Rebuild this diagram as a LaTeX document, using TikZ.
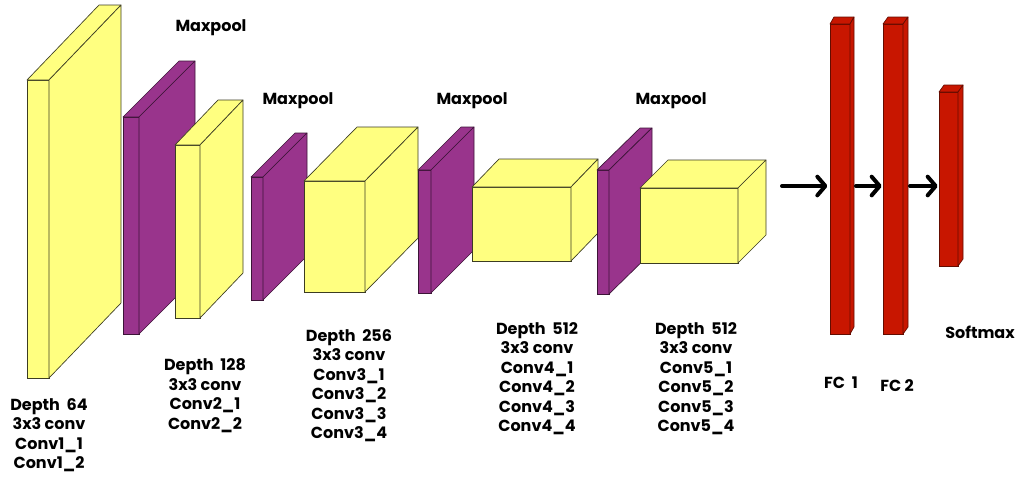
\documentclass[tikz,border=0pt]{standalone}
\usepackage{fontspec}
\setmainfont{Poppins}
\usetikzlibrary{arrows.meta}

\definecolor{convyellow}{RGB}{255,255,128}
\definecolor{convedge}{RGB}{60,60,35}
\definecolor{poolpurple}{RGB}{153,52,140}
\definecolor{pooledge}{RGB}{60,20,55}
\definecolor{fcred}{RGB}{200,22,0}
\definecolor{fcedge}{RGB}{100,12,0}

\tikzset{
  blockface/.style={inner sep=0pt, outer sep=0pt, anchor=north west, line width=0.5pt},
  sideface/.style={line width=0.5pt, line join=round},
  lbl/.style={font=\bfseries\fontsize{12}{14.6}\selectfont, align=center, inner sep=0pt},
  arr/.style={line width=3pt, line cap=round, -{Straight Barb[length=6pt,width=14pt,round]}}
}

% cuboid: name, x, y (front top-left), width, height, depth dx, depth dy, fill, edge
\newcommand\cuboid[9]{%
  \node[blockface, fill=#8, draw=#9, minimum width=#4*0.75pt, minimum height=#5*0.75pt] (#1) at (#2,#3) {};
  \filldraw[sideface, fill=#8, draw=#9] (#1.north west) -- ++(#6,#7) -- ++(#4,0) -- (#1.north east) -- cycle;
  \filldraw[sideface, fill=#8, draw=#9] (#1.north east) -- ++(#6,#7) -- ++(0,#5) -- (#1.south east) -- cycle;
}

\begin{document}
\begin{tikzpicture}[x=0.75pt, y=-0.75pt]
  \useasboundingbox (0,0) rectangle (1019,476);

  % convolution and pooling stages
  \cuboid{conv1}{27}{80}{22}{298}{72}{-75}{convyellow}{convedge}
  \cuboid{pool1}{123}{117}{16}{217}{56}{-56}{poolpurple}{pooledge}
  \cuboid{conv2}{175}{145}{25}{173}{43}{-45}{convyellow}{convedge}
  \cuboid{pool2}{251}{177}{12}{123}{44}{-44}{poolpurple}{pooledge}
  \cuboid{conv3}{304}{181}{61}{111}{53}{-54}{convyellow}{convedge}
  \cuboid{pool3}{418}{170}{13}{123}{43}{-43}{poolpurple}{pooledge}
  \cuboid{conv4}{472}{187}{99}{74}{27}{-28}{convyellow}{convedge}
  \cuboid{pool4}{597}{170}{12}{124}{43}{-42}{poolpurple}{pooledge}
  \cuboid{conv5}{640}{188}{98}{75}{28}{-28}{convyellow}{convedge}

  % fully connected layers
  \cuboid{fc1}{830}{24}{20}{310}{4}{-7}{fcred}{fcedge}
  \cuboid{fc2}{883}{24}{20}{310}{5}{-7}{fcred}{fcedge}
  \cuboid{sm}{939}{92}{19}{174}{5}{-7}{fcred}{fcedge}

  % arrows into the dense layers
  \coordinate (a0) at (782,186);
  \coordinate (a1) at (856,186);
  \coordinate (a2) at (910,186);
  \draw[arr] (a0) -- ([xshift=-2pt]a0 -| fc1.west);
  \draw[arr] (a1) -- ([xshift=-1pt]a1 -| fc2.west);
  \draw[arr] (a2) -- ([xshift=-1pt]a2 -| sm.west);

  % pooling labels
  \node[lbl] (mp1) at (211,28) {Maxpool};
  \node[lbl] (mp2) at (298,101) {Maxpool};
  \node[lbl] (mp3) at (472,101) {Maxpool};
  \node[lbl] (mp4) at (671,101) {Maxpool};

  % stage descriptions
  \node[lbl] (d1) at (49,435) {Depth\ \ 64\\3x3 conv\\Conv1\_1\\Conv1\_2};
  \node[lbl] (d2) at (205,395.5) {Depth\ \ 128\\3x3 conv\\Conv2\_1\\Conv2\_2};
  \node[lbl] (d3) at (349,385.5) {Depth\ \ 256\\3x3 conv\\Conv3\_1\\Conv3\_2\\Conv3\_3\\Conv3\_4};
  \node[lbl] (d4) at (537,378.5) {Depth\ \ 512\\3x3 conv\\Conv4\_1\\Conv4\_2\\Conv4\_3\\Conv4\_4};
  \node[lbl] (d5) at (696,378.5) {Depth\ \ 512\\3x3 conv\\Conv5\_1\\Conv5\_2\\Conv5\_3\\Conv5\_4};

  % dense layer labels
  \node[lbl] (lfc1) at (841,383) {FC\ \ 1};
  \node[lbl] (lfc2) at (897,386) {FC 2};
  \node[lbl] (lsm) at (980,332) {Softmax};
\end{tikzpicture}
\end{document}
